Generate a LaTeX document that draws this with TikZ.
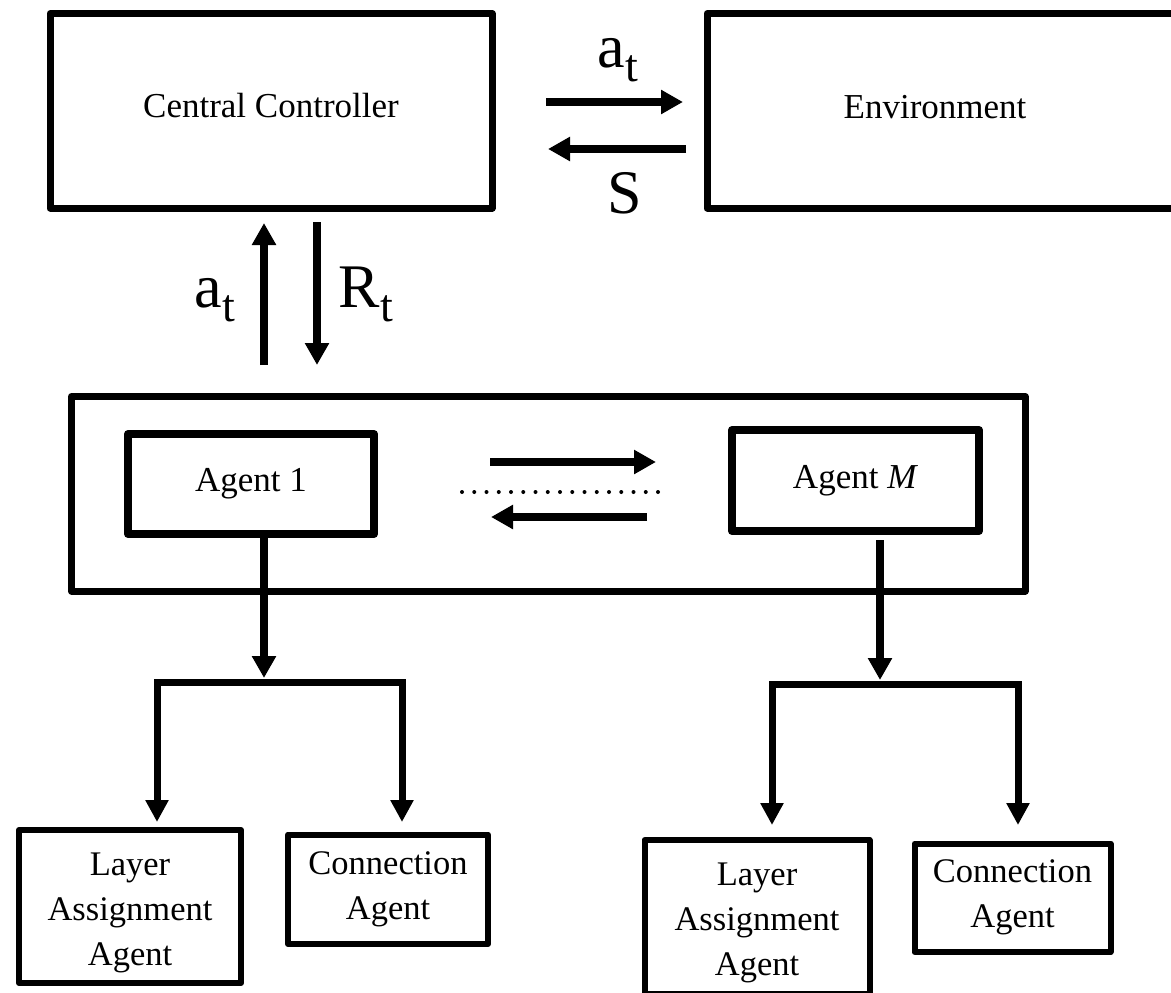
\documentclass[tikz,border=0pt]{standalone}
\usepackage{fontspec}
\setmainfont{Liberation Serif}
\usetikzlibrary{arrows.meta}

% lowered subscript for the signal labels
\newcommand\lowsub[1]{\raisebox{-14pt}{\rmfamily\fontsize{46}{46}\selectfont #1}}

\begin{document}
\begin{tikzpicture}[x=1pt,y=-1pt,
  box/.style={draw, line width=7pt, line join=round, inner sep=0pt, outer sep=0pt,
              align=center, font=\rmfamily\fontsize{35}{45}\selectfont},
  agentbox/.style={box, line width=8pt},
  leafbox/.style={box, line width=6pt, font=\rmfamily\fontsize{34.5}{45}\selectfont},
  arr/.style={line width=8pt, -{Triangle[length=22pt,width=23pt]}},
  legarr/.style={line width=7pt, line join=miter, -{Triangle[length=22pt,width=22pt]}},
  sig/.style={font=\rmfamily\fontsize{62}{62}\selectfont, inner sep=0pt, anchor=base},
  plain/.style={font=\rmfamily\fontsize{35}{45}\selectfont, inner sep=0pt},
]
\useasboundingbox (0,0) rectangle (1171,993);
\clip (0,0) rectangle (1171,993);

% top row
\node[box, minimum width=442pt, minimum height=194.5pt, text depth=10pt] (cc) at (271,110.75) {Central Controller};
\node[box, minimum width=483pt, minimum height=194.5pt] (env) at (948.5,110.75) {};
\node[plain, anchor=base] (envtext) at (935,118) {Environment};

% interaction with the environment
\draw[arr] ([shift={(54,-8.75)}]cc.east) -- ([shift={(-24,-8.75)}]env.west);
\draw[arr] ([shift={(-21,38.25)}]env.west) -- ([shift={(56,38.25)}]cc.east);
\node[sig] (atop) at (618,67) {a\lowsub{t}};
\node[sig] (stop) at (625,213) {S};

% exchange between controller and agent team
\draw[arr] ([shift={(-7,157)}]cc.south) -- ([shift={(-7,15)}]cc.south);
\draw[arr] ([shift={(46,14)}]cc.south) -- ([shift={(46,157)}]cc.south);
\node[sig] (aleft) at (215,307) {a\lowsub{t}};
\node[sig] (rt) at (366,307) {R\lowsub{t}};

% agent team
\node[box, minimum width=953.5pt, minimum height=194.5pt] (team) at (548.25,493.75) {};
\node[agentbox, minimum width=246pt, minimum height=100pt] (ag1) at (251,484) {Agent 1};
\node[agentbox, minimum width=247pt, minimum height=101pt] (agM) at (855.5,480.5) {Agent \textit{M}};

\draw[arr] ([shift={(116,-22)}]ag1.east) -- ([shift={(-76,-18.5)}]agM.west);
\draw[arr] ([shift={(-85,36.5)}]agM.west) -- ([shift={(117,33)}]ag1.east);
\draw[line width=4pt, line cap=round, dash pattern=on 0pt off 12.25pt]
  (462,492) -- (658,492);

% sub-agents
\node[leafbox, minimum width=222pt, minimum height=153pt, text height=125pt] (laa1) at (130,906.5) {Layer\\Assignment\\Agent};
\node[leafbox, minimum width=200pt, minimum height=109.5pt] (con1) at (388,889.25) {Connection\\Agent};
\node[leafbox, minimum width=225pt, minimum height=154pt, text height=125pt] (laa2) at (757,917) {Layer\\Assignment\\Agent};
\node[leafbox, minimum width=196pt, minimum height=108.5pt] (con2) at (1012.5,897.75) {Connection\\Agent};

% branch under agent 1
\coordinate (j1) at (264,682);
\draw[arr, shorten >=4pt] ([xshift=13pt]ag1.south) -- (j1);
\draw[legarr] ([xshift=3.5pt]j1) -| ([shift={(27,-8)}]laa1.north);
\draw[legarr] ([xshift=-3.5pt]j1) -| ([shift={(14,-12.5)}]con1.north);

% branch under agent M
\coordinate (j2) at (880,684);
\draw[arr, shorten >=4pt] ([shift={(24.5,9)}]agM.south) -- (j2);
\draw[legarr] ([xshift=3.5pt]j2) -| ([shift={(15,-15)}]laa2.north);
\draw[legarr] ([xshift=-3.5pt]j2) -| ([shift={(5.5,-18.5)}]con2.north);
\end{tikzpicture}
\end{document}
